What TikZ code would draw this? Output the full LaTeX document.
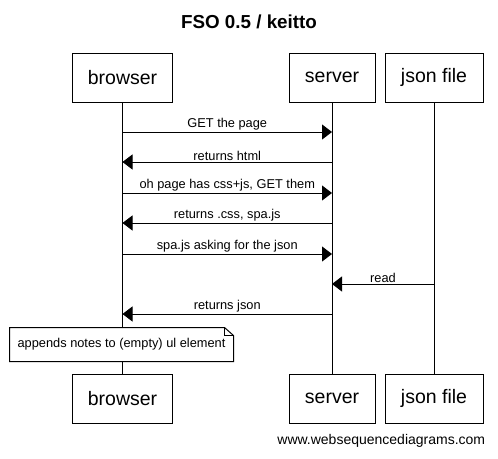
\documentclass[tikz,border=0pt]{standalone}
\usepackage{fontspec}
\setmainfont{Liberation Sans}
\usetikzlibrary{arrows.meta}
\begin{document}
\begin{tikzpicture}[x=1pt,y=-1pt,node distance=321pt,line width=1pt]
\tikzstyle{actor} = [rectangle, minimum height=49pt, text centered, draw=black, fill=white, font=\fontsize{19.5}{22}\selectfont]
\tikzstyle{msg} = [-{Triangle[length=10pt,width=15pt]}]
\tikzstyle{lbl} = [above, inner sep=1pt, font=\fontsize{12.8}{14}\selectfont]
\tikzstyle{note} = [rectangle, minimum width=223pt, minimum height=33pt, fill=white, font=\fontsize{12.8}{14}\selectfont]
\useasboundingbox (0,0) rectangle (498,458);
\node (title) at (249,22) {\fontsize{18.8}{21}\selectfont\bfseries FSO 0.5 / keitto};
\node (browser)[actor, minimum width=100pt] at (122.5,77.5) {browser};
\node (server)[actor, minimum width=86pt] at (332,77.5) {server};
\node (json)[actor, minimum width=98pt] at (434,77.5) {json file};
\node (browserB)[actor, minimum width=100pt, below of=browser] {browser};
\node (serverB)[actor, minimum width=86pt, below of=server] {server};
\node (jsonB)[actor, minimum width=98pt, below of=json] {json file};
\draw (browser) -- (browserB);
\draw (server) -- (serverB);
\draw (json) -- (jsonB);
\foreach \n/\y in {1/132,2/162,3/193,4/223,5/254,6/284,7/314} {
  \coordinate (b\n) at (browser |- 0,\y);
  \coordinate (s\n) at (server |- 0,\y);
  \coordinate (j\n) at (json |- 0,\y);
}
\draw [msg] (b1) -- node[lbl]{GET the page} (s1);
\draw [msg] (s2) -- node[lbl]{returns html} (b2);
\draw [msg] (b3) -- node[lbl]{oh page has css+js, GET them} (s3);
\draw [msg] (s4) -- node[lbl]{returns .css, spa.js} (b4);
\draw [msg] (b5) -- node[lbl]{spa.js asking for the json} (s5);
\draw [msg] (j6) -- node[lbl]{read} (s6);
\draw [msg] (s7) -- node[lbl]{returns json} (b7);
\node (ulnote)[note] at (121.5,344.5) {appends notes to (empty) ul element};
\draw (ulnote.south west) -- (ulnote.north west) -- ([xshift=-9pt]ulnote.north east) -- ([yshift=-8pt]ulnote.north east) -- (ulnote.south east) -- cycle;
\draw ([xshift=-9pt]ulnote.north east) |- ([yshift=-8pt]ulnote.north east);
\node (footer)[anchor=east, font=\fontsize{14}{16}\selectfont] at (489,441) {www.websequencediagrams.com};
\end{tikzpicture}
\end{document}
